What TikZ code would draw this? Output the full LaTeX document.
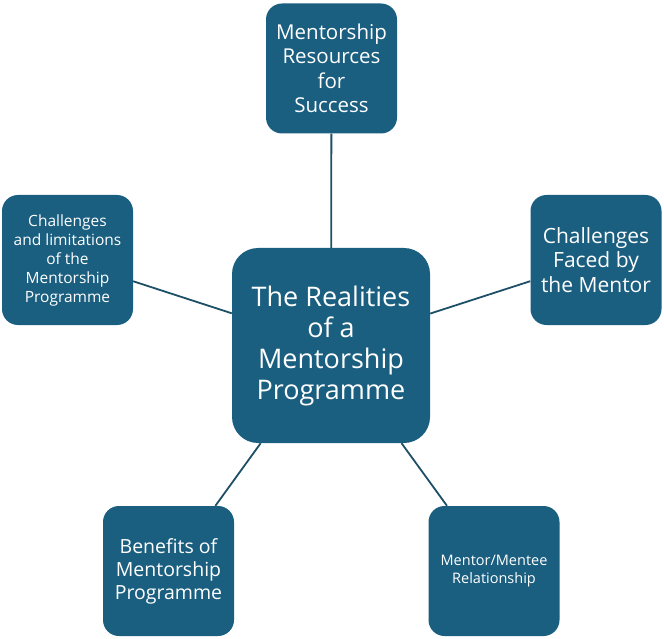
\documentclass[tikz,border=0pt]{standalone}
\usepackage{fontspec}
\setmainfont{Open Sans}
\definecolor{boxblue}{HTML}{1A5E80}
\definecolor{linecol}{HTML}{1D4F66}
\begin{document}
\begin{tikzpicture}[x=1pt,y=-1pt,
  box/.style={fill=boxblue,draw=none,text=white,align=center,inner sep=0pt,
    minimum width=131pt,minimum height=130pt,rounded corners=16pt},
  link/.style={draw=linecol,line width=1.8pt}]
\useasboundingbox (0,0) rectangle (664,639);
\node[box,minimum width=198pt,minimum height=195pt,rounded corners=26pt,
  font=\fontsize{27}{31}\selectfont] (c) at (331,345.5)
  {The Realities\\of a\\Mentorship\\Programme};
\node[box,font=\fontsize{20.5}{24.5}\selectfont] (t) at (331.5,68.5)
  {Mentorship\\Resources\\for\\Success};
\node[box,font=\fontsize{15.5}{19}\selectfont] (l) at (67.5,260)
  {Challenges\\and limitations\\of the\\Mentorship\\Programme};
\node[box,font=\fontsize{21}{24.5}\selectfont] (r) at (596,260)
  {Challenges\\Faced by\\the Mentor};
\node[box,font=\fontsize{19.5}{23}\selectfont] (bl) at (168.5,571)
  {Benefits of\\Mentorship\\Programme};
\node[box,font=\fontsize{14.5}{18}\selectfont] (br) at (494,571)
  {Mentor/Mentee\\Relationship};
\draw[link] (c) -- (t);
\draw[link] (c) -- (l);
\draw[link] (c) -- (r);
\draw[link] (c) -- (bl);
\draw[link] (c) -- (br);
\end{tikzpicture}
\end{document}
